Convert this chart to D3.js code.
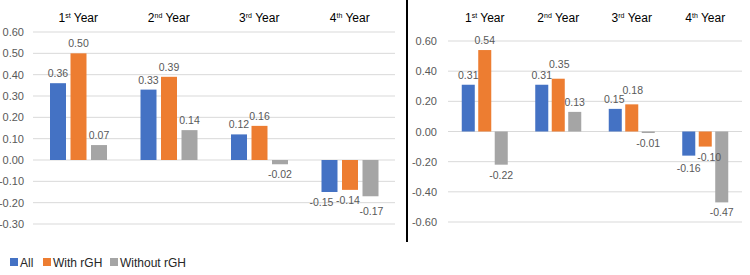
<!DOCTYPE html>
<html>
<head>
<meta charset="utf-8">
<script src="https://cdn.jsdelivr.net/npm/d3@7"></script>
<style>
  body { margin: 0; background: #fff; }
  text { font-family: 'Liberation Sans', Arial, sans-serif; }
</style>
</head>
<body>
<div id="grafica"></div>
<script>
// datos
categorias = ['1', '2', '3', '4']
sufijos    = ['st', 'nd', 'rd', 'th']
series     = ['All', 'With rGH', 'Without rGH']
colores    = ['#4472C4', '#ED7D31', '#A5A5A5']

izqAll     = [0.36, 0.33, 0.12, -0.15]
izqWith    = [0.50, 0.39, 0.16, -0.14]
izqWithout = [0.07, 0.14, -0.02, -0.17]
izqTicks   = [0.6, 0.5, 0.4, 0.3, 0.2, 0.1, 0.0, -0.1, -0.2, -0.3]

derAll     = [0.31, 0.31, 0.15, -0.16]
derWith    = [0.54, 0.35, 0.18, -0.10]
derWithout = [-0.22, 0.13, -0.01, -0.47]
derTicks   = [0.6, 0.4, 0.2, 0.0, -0.2, -0.4, -0.6]

ancho_total = 750
alto_total  = 275

svg = d3
        .select('#grafica')
        .append('svg')
        .attr('width', ancho_total)
        .attr('height', alto_total)

color = d3.scaleOrdinal().domain(series).range(colores)

fmt = (v) => d3.format('.2f')(v).replace('−', '-')

function panel(conf) {
  g = svg.append('g')

  x0 = d3.scaleBand()
        .domain(categorias)
        .range([conf.x0, conf.x1])

  x1 = d3.scaleBand()
        .domain(series)
        .range(conf.inner)
        .paddingInner(conf.pad)

  y = d3.scaleLinear()
        .domain(conf.dominio)
        .range(conf.rango)

  // lineas de cuadricula
  g.selectAll('line.grid')
    .data(conf.ticks)
    .enter()
    .append('line')
      .attr('x1', conf.x0)
      .attr('x2', conf.x1)
      .attr('y1', (d) => y(d))
      .attr('y2', (d) => y(d))
      .attr('stroke', '#d9d9d9')
      .attr('stroke-width', 1)

  yAxis = d3.axisLeft(y)
            .tickValues(conf.ticks)
            .tickSize(0)
            .tickPadding(0)
  yG = g.append('g')
        .attr('transform', `translate(${conf.xLabel}, 0)`)
        .call(yAxis)
  yG.select('.domain').remove()
  yG.selectAll('text')
    .attr('font-size', '11px')
    .attr('fill', '#595959')
    .attr('font-family', "'Liberation Sans', Arial, sans-serif")
    .text((d) => fmt(d))

  // titulos de categoria
  cat = g.selectAll('text.cat')
    .data(categorias)
    .enter()
    .append('text')
      .attr('x', (d) => x0(d) + x0.bandwidth() / 2)
      .attr('y', 22)
      .attr('text-anchor', 'middle')
      .attr('font-size', '12px')
      .attr('fill', '#000')
  cat.append('tspan').text((d) => d)
  cat.append('tspan')
    .attr('font-size', '7px')
    .attr('dy', -4)
    .text((d, i) => sufijos[i])
  cat.append('tspan')
    .attr('dy', 4)
    .text(' Year')

  // barras
  filas = categorias.map((c, i) => series.map((s, j) => ({ cat: i, serie: s, sj: j, valor: conf.valores[j][i] })))

  grupos = g.selectAll('g.grupo')
    .data(filas)
    .enter()
    .append('g')
      .attr('transform', (d, i) => `translate(${x0(categorias[i])}, 0)`)

  grupos.selectAll('rect')
    .data((d) => d)
    .enter()
    .append('rect')
      .attr('x', (d) => x1(d.serie))
      .attr('width', x1.bandwidth())
      .attr('y', (d) => y(Math.max(0, d.valor)))
      .attr('height', (d) => Math.abs(y(d.valor) - y(0)))
      .attr('fill', (d) => color(d.serie))

  // etiquetas (con pequeños ajustes para que no se encimen)
  ajuste = (d) => conf.ajustes[d.cat + '-' + d.sj] || [0, 0]

  grupos.selectAll('text')
    .data((d) => d)
    .enter()
    .append('text')
      .attr('x', (d) => x1(d.serie) + x1.bandwidth() / 2 + ajuste(d)[0])
      .attr('y', (d) => (d.valor >= 0 ? y(d.valor) - 6 : y(d.valor) + 14) + ajuste(d)[1])
      .attr('text-anchor', 'middle')
      .attr('font-size', '10.5px')
      .attr('fill', '#595959')
      .text((d) => fmt(d.valor))
}

panel({
  x0: 33, x1: 395, inner: [17, 74], pad: 0.22,
  dominio: [-0.3, 0.6], rango: [224, 32], ticks: izqTicks, xLabel: 24,
  valores: [izqAll, izqWith, izqWithout],
  ajustes: { '3-0': [-8, 0], '3-1': [-2, 0], '3-2': [1, 5] }
})

panel({
  x0: 448, x1: 742, inner: [13.75, 59.75], pad: 0.21,
  dominio: [-0.6, 0.6], rango: [222, 41], ticks: derTicks, xLabel: 437,
  valores: [derAll, derWith, derWithout],
  ajustes: { '1-1': [1, -5], '2-0': [-1, 0], '2-1': [1, -4], '3-0': [0, 2], '3-1': [4, 0] }
})

// separador vertical
svg.append('line')
  .attr('x1', 407).attr('x2', 407)
  .attr('y1', 0).attr('y2', 242)
  .attr('stroke', '#000')
  .attr('stroke-width', 2)

// leyenda
posLeyenda = [10, 43, 110]
leyenda = svg.append('g').attr('transform', 'translate(0, 258)')
series.forEach((s, i) => {
  ren = leyenda.append('g').attr('transform', `translate(${posLeyenda[i]}, 0)`)
  ren.append('rect')
    .attr('x', 0).attr('y', 0)
    .attr('width', 8).attr('height', 8)
    .attr('fill', color(s))
  ren.append('text')
    .attr('x', 10).attr('y', 9)
    .attr('font-size', '12px')
    .attr('fill', '#262626')
    .text(s)
})
</script>
</body>
</html>
